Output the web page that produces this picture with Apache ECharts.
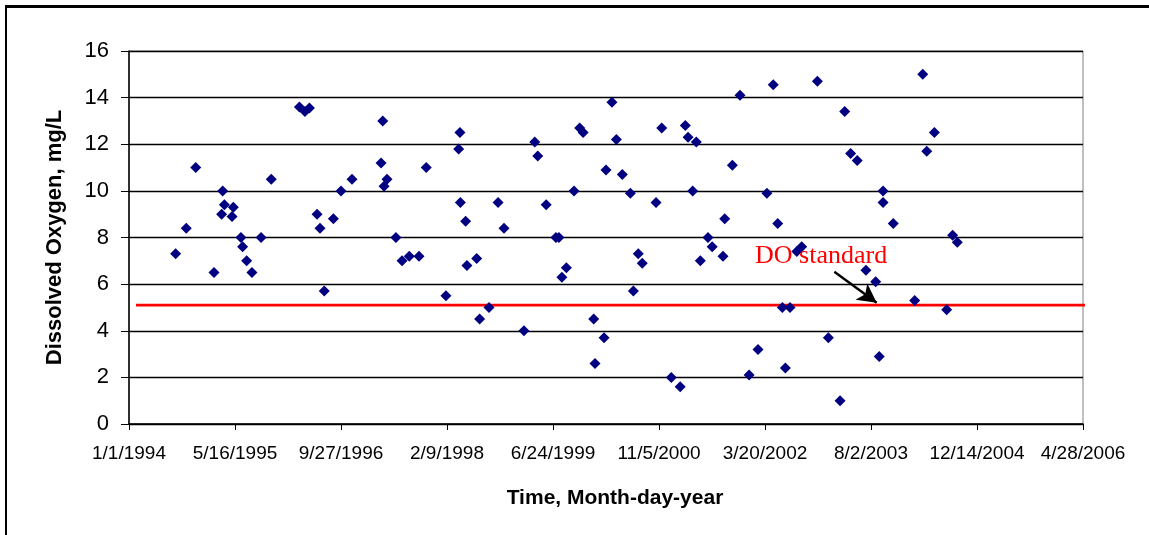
<!DOCTYPE html>
<html>
<head>
<meta charset="utf-8">
<script src="https://cdn.jsdelivr.net/npm/echarts@6/dist/echarts.min.js"></script>
<style>
  html, body { margin: 0; padding: 0; background: #fff; }
  #frame { position: absolute; left: 5px; top: 5px; right: 0; bottom: 0;
           border-top: 3px solid #000; border-left: 2px solid #000; }
  #chart { position: absolute; left: 0; top: 0; width: 1149px; height: 535px; }
</style>
</head>
<body>
<div id="frame"></div>
<div id="chart"></div>
<script>
// Sampling dates, as days after 1 January 1994
const sampleDay = [
  220, 270, 315, 401, 437, 442, 450, 486, 492, 528, 536, 555, 580, 623, 671,
  804, 830, 851, 887, 901, 921, 964, 1000, 1052, 1189, 1197, 1203, 1217, 1259,
  1288, 1322, 1368, 1402, 1495, 1555, 1561, 1563, 1588, 1594,
  1640, 1654, 1698, 1741, 1769, 1863, 1914, 1928, 1968, 2014, 2028, 2042, 2063,
  2099, 2126, 2142, 2192, 2198, 2241, 2250, 2278, 2299, 2327, 2365, 2379, 2402, 2421,
  2486, 2513, 2558, 2600, 2624, 2637, 2659, 2676, 2695, 2731, 2751, 2802, 2810,
  2846, 2882, 2925, 2967, 3009, 3039, 3060, 3082, 3096, 3118, 3150, 3173,
  3247, 3299, 3354, 3376, 3404, 3435, 3476, 3522, 3539, 3557, 3557, 3605, 3706,
  3744, 3763, 3799, 3857, 3885, 3907
];
// Dissolved oxygen, mg/L
const doMgL = [
  7.3, 8.4, 11.0, 6.5, 9.0, 10.0, 9.4, 8.9, 9.3, 8.0, 7.6, 7.0, 6.5, 8.0, 10.5,
  13.6, 13.4, 13.55, 9.0, 8.4, 5.7, 8.8, 10.0, 10.5, 11.2, 13.0, 10.2, 10.5, 8.0,
  7.0, 7.2, 7.2, 11.0, 5.5, 11.8, 12.5, 9.5, 8.7, 6.8,
  7.1, 4.5, 5.0, 9.5, 8.4, 4.0, 12.1, 11.5, 9.4, 8.0, 8.0, 6.3, 6.7,
  10.0, 12.7, 12.5, 4.5, 2.6, 3.7, 10.9, 13.8, 12.2, 10.7, 9.9, 5.7, 7.3, 6.9,
  9.5, 12.7, 2.0, 1.6, 12.8, 12.3, 10.0, 12.1, 7.0, 8.0, 7.6, 7.2, 8.8,
  11.1, 14.1, 2.1, 3.2, 9.9, 14.55, 8.6, 5.0, 2.4, 5.0, 7.4, 7.6,
  14.7, 3.7, 1.0, 13.4, 11.6, 11.3, 6.6, 6.1, 2.9, 10.0, 9.5, 8.6, 5.3,
  15.0, 11.7, 12.5, 4.9, 8.1, 7.8
];
// Axis ranges and the DO standard line
const xMin = 0, xMax = 4500, xStep = 500;
const yMin = 0, yMax = 16, yStep = 2;
const doStandard = 5.1;
const standardSpan = [33, 4524];
const arrowFrom = [3327, 6.53], arrowTo = [3527, 5.2];
const noteAnchor = [2953, 7.2];

const origin = Date.UTC(1994, 0, 1);
function dayLabel(v) {
  const d = new Date(origin + v * 86400000);
  return (d.getUTCMonth() + 1) + '/' + d.getUTCDate() + '/' + d.getUTCFullYear();
}

const points = sampleDay.map((d, i) => [d, doMgL[i]]);
const chart = echarts.init(document.getElementById('chart'), null, { renderer: 'canvas' });

chart.setOption({
  animation: false,
  textStyle: { fontFamily: 'Liberation Sans, Arial, sans-serif' },
  grid: {
    left: 129, right: 66, top: 51, bottom: 111,
    show: true, borderColor: '#808080', borderWidth: 1, backgroundColor: '#fff'
  },
  xAxis: {
    type: 'value', min: xMin, max: xMax, interval: xStep,
    name: 'Time, Month-day-year', nameLocation: 'middle', nameGap: 64,
    nameTextStyle: { fontSize: 21, fontWeight: 'bold', color: '#000', padding: [0, 0, 0, 18] },
    axisLine: { onZero: false, lineStyle: { color: '#000', width: 1.5 } },
    axisTick: { show: true, length: 6, lineStyle: { color: '#000' } },
    axisLabel: { formatter: dayLabel, fontSize: 19, color: '#000', margin: 20, hideOverlap: false, showMaxLabel: true, showMinLabel: true },
    splitLine: { show: false }
  },
  yAxis: {
    type: 'value', min: yMin, max: yMax, interval: yStep,
    name: 'Dissolved Oxygen, mg/L', nameLocation: 'middle', nameGap: 63,
    nameTextStyle: { fontSize: 22, fontWeight: 'bold', color: '#000' },
    axisLine: { show: true, lineStyle: { color: '#000', width: 1.5 } },
    axisTick: { show: true, length: 8, lineStyle: { color: '#000' } },
    axisLabel: { fontSize: 22, color: '#000', margin: 20 },
    splitLine: { show: true, lineStyle: { color: '#000', width: 1.3 } }
  },
  series: [
    {
      type: 'line',
      data: [[standardSpan[0], doStandard], [standardSpan[1], doStandard]],
      clip: false, symbol: 'none', silent: true, z: 3,
      lineStyle: { color: '#ff0000', width: 2.6 },
      markLine: {
        silent: true, symbol: ['none', 'arrow'], symbolSize: [15, 19],
        lineStyle: { color: '#000', width: 2.4, type: 'solid' },
        label: { show: false },
        data: [[{ coord: arrowFrom }, { coord: arrowTo }]]
      },
      markPoint: {
        silent: true, symbol: 'circle', symbolSize: 0,
        label: {
          show: true, position: 'right', distance: 0, formatter: 'DO standard',
          color: '#ff0000', fontSize: 26, fontFamily: 'Liberation Serif, Times New Roman, serif'
        },
        data: [{ coord: noteAnchor }]
      }
    },
    {
      type: 'scatter',
      data: points,
      symbol: 'diamond', symbolSize: [11, 11], z: 4,
      itemStyle: { color: '#000080', opacity: 1 }
    }
  ]
});
</script>
</body>
</html>
